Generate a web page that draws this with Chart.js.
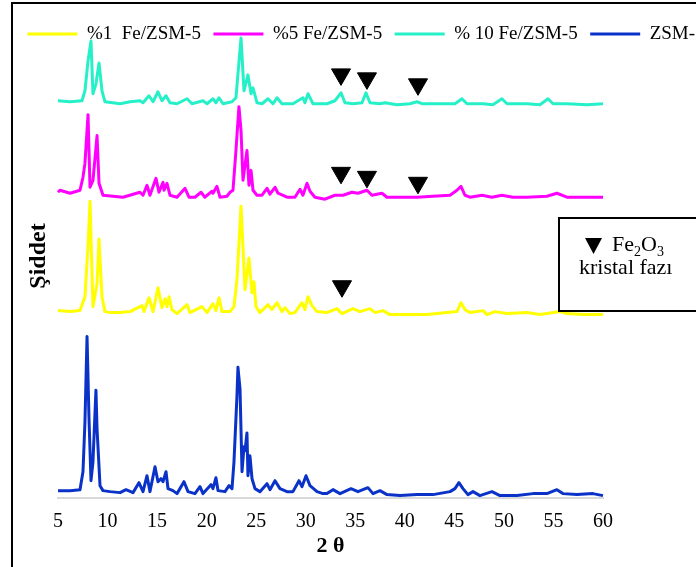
<!DOCTYPE html>
<html>
<head>
<meta charset="utf-8">
<script src="https://cdn.jsdelivr.net/npm/chart.js@4/dist/chart.umd.min.js"></script>
<style>
  html, body { margin: 0; padding: 0; overflow: hidden; background: #fff; }
  #wrap { position: relative; width: 732px; height: 567px; }
</style>
</head>
<body>
<div id="wrap"><canvas id="xrdChart"></canvas></div>
<script>
// XRD desenleri (2θ, şiddet)
var seriesNames = ['%1  Fe/ZSM-5', '%5 Fe/ZSM-5', '% 10 Fe/ZSM-5', 'ZSM-5'];

var fe1X = [5.00, 6.21, 7.22, 7.72, 8.03, 8.23, 8.53, 8.94, 9.14, 9.44, 9.74, 10.25, 11.26, 12.27, 13.48, 13.68, 14.18, 14.59, 15.09, 15.49, 15.80, 16.00, 16.20, 16.50, 17.01, 18.02, 18.32, 19.53, 20.04, 20.64, 20.94, 21.25, 21.55, 22.36, 22.76, 23.06, 23.47, 23.67, 23.87, 24.27, 24.58, 24.78, 24.98, 25.38, 26.19, 26.59, 27.10, 27.60, 27.91, 28.41, 28.91, 29.62, 29.92, 30.23, 30.63, 31.14, 32.14, 33.15, 33.66, 34.77, 35.47, 36.48, 36.99, 37.80, 38.50, 40.22, 42.24, 44.25, 45.26, 45.67, 46.07, 46.57, 47.89, 48.29, 49.10, 50.31, 52.33, 53.64, 55.66, 56.36, 57.98, 60.00];
var fe1Y = [188, 187, 188, 202, 252, 298, 192, 215, 260, 202, 187, 186, 186, 187, 193, 187, 201, 187, 211, 191, 200, 192, 202, 189, 185, 194, 186, 192, 186, 195, 188, 201, 187, 187, 192, 219, 293, 252, 209, 241, 206, 217, 192, 186, 194, 189, 196, 187, 191, 185, 186, 196, 189, 202, 193, 187, 186, 190, 185, 190, 187, 190, 186, 188, 184, 184, 184, 186, 187, 196, 189, 186, 188, 184, 187, 185, 186, 184, 187, 185, 184, 184];

var fe5X = [5.00, 5.20, 6.21, 7.22, 7.52, 7.72, 8.03, 8.23, 8.53, 8.94, 9.14, 9.54, 11.56, 13.27, 13.58, 13.98, 14.28, 14.89, 15.19, 15.60, 15.70, 16.00, 16.30, 17.01, 17.82, 18.22, 18.82, 19.43, 19.83, 20.54, 20.64, 21.04, 21.35, 22.05, 22.36, 22.66, 22.96, 23.26, 23.47, 23.67, 24.07, 24.27, 24.48, 24.68, 25.08, 25.59, 26.09, 26.39, 26.90, 27.20, 28.11, 28.91, 29.42, 29.72, 30.13, 30.43, 30.93, 31.94, 32.95, 33.76, 34.67, 35.27, 36.18, 36.68, 37.69, 38.20, 39.51, 41.23, 42.84, 44.56, 45.26, 45.67, 46.07, 46.57, 47.79, 48.79, 49.80, 50.91, 52.33, 54.34, 55.35, 56.36, 57.98, 60.00];
var fe5Y = [307, 309, 306, 309, 322, 336, 385, 312, 319, 364, 316, 304, 302, 307, 304, 314, 304, 321, 307, 317, 309, 316, 304, 302, 311, 302, 302, 307, 302, 308, 306, 313, 302, 303, 307, 309, 349, 393, 369, 319, 349, 314, 329, 309, 304, 304, 311, 305, 312, 306, 302, 302, 310, 304, 316, 308, 302, 300, 304, 304, 307, 306, 309, 304, 306, 302, 302, 302, 303, 304, 309, 313, 304, 302, 304, 302, 304, 302, 302, 303, 306, 302, 302, 302];

var fe10X = [5.00, 6.21, 7.42, 7.72, 8.03, 8.33, 8.53, 8.83, 9.14, 9.44, 9.74, 11.26, 12.27, 13.27, 13.58, 14.18, 14.59, 15.09, 15.49, 15.90, 16.30, 17.01, 18.02, 18.52, 19.63, 20.04, 20.64, 20.94, 21.25, 21.65, 22.56, 22.96, 23.16, 23.47, 23.77, 24.17, 24.48, 24.68, 25.08, 25.59, 26.19, 26.70, 27.10, 27.60, 28.71, 29.72, 29.92, 30.23, 30.73, 32.14, 32.95, 33.56, 33.96, 34.77, 35.68, 36.08, 36.48, 37.49, 38.00, 39.21, 40.52, 41.23, 41.73, 43.55, 45.06, 45.77, 46.27, 47.89, 48.89, 49.80, 50.31, 52.33, 53.64, 54.45, 54.95, 56.36, 58.38, 60.00];
var fe10Y = [399, 398, 399, 409, 439, 459, 406, 416, 437, 409, 398, 396, 398, 399, 397, 404, 398, 408, 399, 404, 397, 396, 401, 396, 399, 396, 401, 397, 402, 396, 398, 402, 426, 462, 409, 425, 406, 412, 397, 396, 401, 396, 402, 396, 396, 402, 397, 406, 396, 396, 399, 407, 397, 396, 397, 407, 397, 396, 397, 395, 396, 398, 396, 396, 396, 401, 396, 396, 395, 401, 396, 396, 395, 401, 396, 396, 395, 396];

var zsmX = [5.00, 6.21, 7.22, 7.52, 7.72, 7.93, 8.13, 8.33, 8.53, 8.83, 8.94, 9.24, 9.54, 10.25, 11.26, 11.86, 12.57, 13.17, 13.58, 13.98, 14.28, 14.79, 15.09, 15.39, 15.60, 15.90, 16.10, 16.60, 17.01, 17.71, 18.12, 18.82, 19.33, 19.63, 20.44, 20.64, 20.94, 21.15, 21.85, 22.26, 22.56, 22.76, 23.06, 23.16, 23.37, 23.57, 23.77, 23.87, 24.07, 24.17, 24.37, 24.58, 24.88, 25.38, 26.09, 26.39, 26.90, 27.40, 28.11, 28.71, 29.32, 29.62, 30.03, 30.43, 31.14, 31.74, 32.14, 32.75, 33.46, 34.57, 35.27, 36.28, 36.79, 37.49, 38.20, 39.51, 41.23, 42.84, 44.56, 45.06, 45.46, 45.87, 46.37, 46.88, 47.58, 48.79, 49.60, 51.32, 52.93, 54.34, 55.35, 55.95, 57.37, 58.98, 60.00];
var zsmY = [7, 7, 8, 26, 76, 162, 79, 17, 36, 108, 69, 12, 7, 6, 5, 8, 5, 15, 6, 22, 6, 31, 16, 19, 16, 26, 9, 7, 4, 16, 6, 4, 11, 4, 13, 9, 20, 7, 6, 12, 9, 36, 102, 131, 109, 26, 51, 47, 65, 22, 42, 19, 9, 6, 14, 8, 17, 9, 6, 6, 17, 11, 22, 12, 6, 4, 4, 8, 4, 9, 6, 10, 4, 7, 3, 2, 3, 3, 6, 9, 15, 9, 3, 6, 2, 6, 2, 2, 4, 4, 8, 4, 3, 4, 2];

// Fe2O3 kristal fazı işaretleri
var markerX = [33.56, 36.18, 41.33, 33.56, 36.18, 41.33, 33.66];
var markerY = [425.5, 421.5, 415.5, 326.5, 322.5, 316.5, 212.5];

var xTickMin = 5;
var xTickMax = 60;
var xTickStep = 5;

function pts(xs, ys) {
  return xs.map(function(x, i) { return { x: x, y: ys[i] }; });
}

var frame = {
  id: 'frame',
  afterDraw: function(chart) {
    var c = chart.ctx;
    c.save();
    c.strokeStyle = '#000';
    c.lineWidth = 2;
    c.beginPath();
    c.moveTo(12, 600);
    c.lineTo(12, 3);
    c.lineTo(chart.width, 3);
    c.stroke();

    // y ekseni başlığı
    c.fillStyle = '#000';
    c.font = 'bold 24px "Liberation Serif"';
    c.textAlign = 'center';
    c.textBaseline = 'middle';
    c.translate(39, 256);
    c.rotate(-Math.PI / 2);
    c.fillText('Şiddet', 0, 0);
    c.restore();
  },
  afterDatasetsDraw: function(chart) {
    var c = chart.ctx;
    c.save();
    c.fillStyle = '#fff';
    c.fillRect(559, 218, 300, 93);
    c.strokeStyle = '#000';
    c.lineWidth = 2;
    c.strokeRect(559, 218, 300, 93);

    c.fillStyle = '#000';
    c.beginPath();
    c.moveTo(585, 238);
    c.lineTo(602, 238);
    c.lineTo(593.5, 254);
    c.closePath();
    c.fill();

    c.textBaseline = 'alphabetic';
    c.textAlign = 'left';
    var x = 612;
    c.font = '22px "Liberation Serif"';
    c.fillText('Fe', x, 251); x += c.measureText('Fe').width;
    c.font = '14px "Liberation Serif"';
    c.fillText('2', x, 256); x += c.measureText('2').width;
    c.font = '22px "Liberation Serif"';
    c.fillText('O', x, 251); x += c.measureText('O').width;
    c.font = '14px "Liberation Serif"';
    c.fillText('3', x, 256);
    c.font = '22px "Liberation Serif"';
    c.fillText('kristal fazı', 579, 274);
    c.restore();
  }
};

Chart.defaults.font.family = '"Liberation Serif"';
Chart.defaults.color = '#000';

var colors = ['#ffff00', '#ff00ff', '#26f0c8', '#0a32c8'];
var xs = [fe1X, fe5X, fe10X, zsmX];
var ys = [fe1Y, fe5Y, fe10Y, zsmY];

var datasets = seriesNames.map(function(name, i) {
  return {
    label: name,
    data: pts(xs[i], ys[i]),
    borderColor: colors[i],
    backgroundColor: colors[i],
    borderWidth: 3,
    borderJoinStyle: 'round',
    pointRadius: 0,
    tension: 0,
    clip: false
  };
});

datasets.push({
  label: 'Fe2O3',
  data: pts(markerX, markerY),
  showLine: false,
  pointStyle: 'triangle',
  rotation: 180,
  pointRadius: 11,
  pointBackgroundColor: '#000',
  pointBorderColor: '#000',
  pointBorderWidth: 1,
  order: -1,
  clip: false
});

var ctx = document.getElementById('xrdChart');
var myChart = new Chart(ctx, {
  type: 'line',
  data: { datasets: datasets },
  plugins: [frame],
  options: {
    responsive: true,
    maintainAspectRatio: false,
    animation: false,
    layout: { padding: { top: 12, left: 0, right: 0, bottom: 3.8 } },
    plugins: {
      tooltip: { enabled: false },
      legend: {
        position: 'top',
        labels: {
          boxWidth: 50,
          boxHeight: 3,
          padding: 12.5,
          font: { size: 19 },
          filter: function(item) { return item.datasetIndex < 4; },
          generateLabels: function(chart) {
            return Chart.defaults.plugins.legend.labels.generateLabels(chart).map(function(l) {
              l.fillStyle = l.strokeStyle;
              l.lineWidth = 0;
              return l;
            });
          }
        }
      }
    },
    scales: {
      x: {
        type: 'linear',
        min: xTickMin,
        max: xTickMax,
        grid: { display: false, drawTicks: false },
        border: { color: '#d9d9d9', width: 2 },
        ticks: { stepSize: xTickStep, padding: 12, font: { size: 20 } },
        title: { display: true, text: '2 θ', font: { size: 22, weight: 'bold' }, padding: { top: -12.8, bottom: 4 } }
      },
      y: {
        min: 0,
        max: 446.5,
        grid: { display: false, drawTicks: false },
        border: { display: false },
        ticks: { display: false },
        afterFit: function(s) { s.width = 58; }
      },
      y2: {
        position: 'right',
        grid: { display: false, drawTicks: false },
        border: { display: false },
        ticks: { display: false },
        afterFit: function(s) { s.width = 129; }
      }
    }
  }
});
</script>
</body>
</html>
